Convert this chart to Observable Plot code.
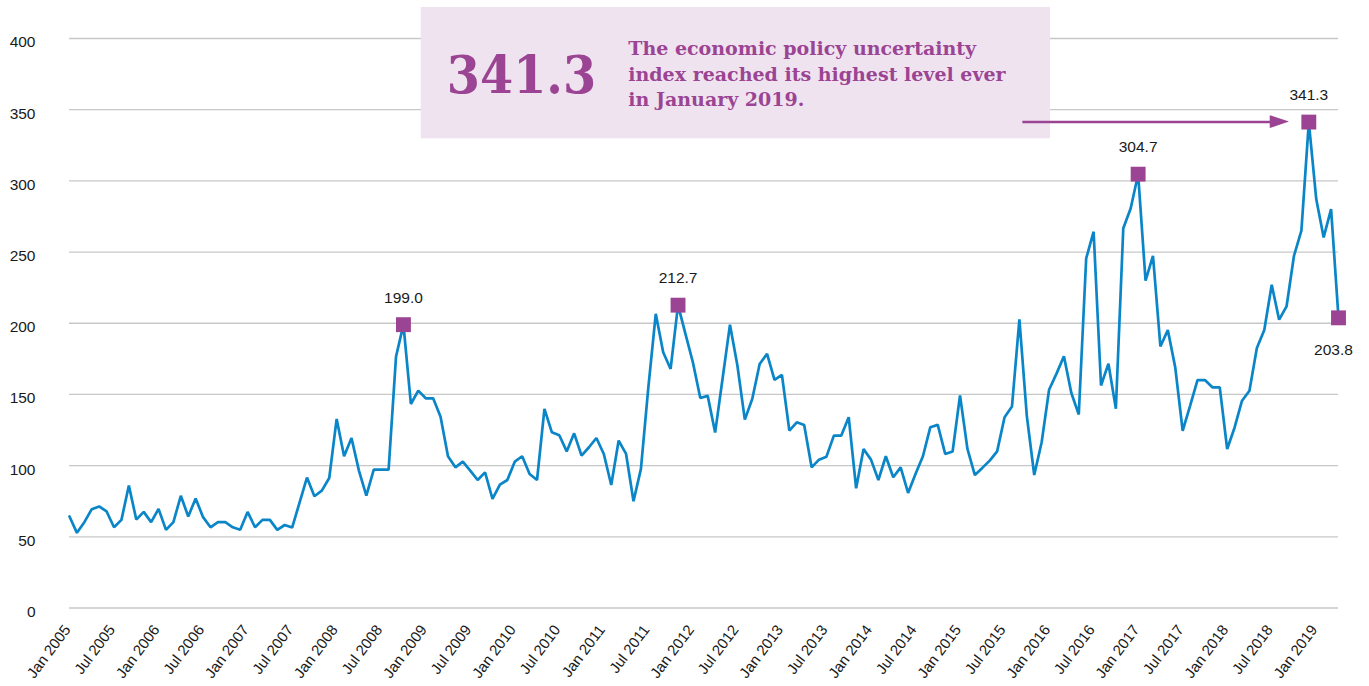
<!DOCTYPE html>
<html>
<head>
<meta charset="utf-8">
<script src="https://cdn.jsdelivr.net/npm/d3@7"></script>
<script src="https://cdn.jsdelivr.net/npm/@observablehq/plot@0.6"></script>
<style>
  html, body { margin: 0; padding: 0; background: #ffffff; }
  #chart svg { display: block; }
</style>
</head>
<body>
<div id="chart"></div>
<script>
// Monthly economic policy uncertainty index, Jan 2005 onward (one value per month)
const values = [
  64.3, 52.8, 60.3, 69.4, 71.3, 67.8, 56.7, 61.9, 86.0, 62.1,
  67.5, 60.3, 69.6, 54.9, 60.3, 78.8, 64.3, 76.9, 63.8, 56.7,
  60.3, 60.3, 56.7, 54.9, 67.5, 56.7, 61.9, 61.9, 54.9, 58.3,
  56.5, 74.0, 91.6, 78.5, 82.4, 91.3, 132.8, 106.6, 119.4, 96.5,
  79.0, 97.2, 97.2, 97.2, 176.6, 199.0, 143.3, 152.7, 147.3, 147.3,
  134.4, 106.6, 98.8, 102.8, 96.5, 89.9, 95.3, 76.6, 86.6, 89.9,
  102.8, 106.6, 94.1, 89.9, 139.8, 123.4, 121.3, 110.0, 122.7, 107.0,
  112.9, 119.4, 108.2, 86.4, 117.6, 108.2, 75.0, 97.7, 155.0, 206.6,
  179.6, 167.9, 212.7, 192.5, 172.6, 147.5, 149.0, 123.2, 161.0, 199.0,
  170.3, 132.3, 146.8, 171.4, 178.5, 160.2, 163.7, 124.6, 130.4, 128.6,
  98.8, 104.2, 106.3, 121.1, 121.1, 134.0, 84.1, 111.7, 104.2, 89.9,
  106.6, 91.8, 98.8, 80.8, 94.1, 106.6, 127.0, 128.6, 108.2, 109.9,
  149.3, 111.7, 93.4, 98.4, 103.5, 110.0, 134.0, 141.5, 202.8, 135.0,
  93.4, 116.4, 153.3, 164.6, 176.8, 151.0, 135.9, 245.5, 264.3, 156.3,
  171.6, 139.9, 266.7, 280.8, 304.7, 229.9, 247.4, 183.7, 195.2, 169.0,
  124.5, 142.0, 160.1, 160.1, 155.0, 155.0, 111.7, 126.8, 145.6, 152.6,
  182.6, 195.2, 227.0, 202.5, 211.8, 247.4, 265.0, 341.3, 287.2, 260.3,
  280.2, 203.8
];

// Axis tick labels, one every six months
const tickLabels = [
  "Jan 2005", "Jul 2005", "Jan 2006", "Jul 2006", "Jan 2007", "Jul 2007",
  "Jan 2008", "Jul 2008", "Jan 2009", "Jul 2009", "Jan 2010", "Jul 2010",
  "Jan 2011", "Jul 2011", "Jan 2012", "Jul 2012", "Jan 2013", "Jul 2013",
  "Jan 2014", "Jul 2014", "Jan 2015", "Jul 2015", "Jan 2016", "Jul 2016",
  "Jan 2017", "Jul 2017", "Jan 2018", "Jul 2018", "Jan 2019"
];
const yTicks = [0, 50, 100, 150, 200, 250, 300, 350, 400];

// Highlighted points (month index into values) and their labels
const highlightIndex = [45, 82, 144, 167, 171];
const highlightLabel = ["199.0", "212.7", "304.7", "341.3", "203.8"];
const highlightSide  = ["above", "above", "above", "above", "below"];

// Callout
const calloutNumber = "341.3";
const calloutText = "The economic policy uncertainty\nindex reached its highest level ever\nin January 2019.";

const BLUE = "#0a86c8";
const PURPLE = "#9b4493";
const LAVENDER = "#efe3f0";

const series = values.map((v, i) => ({ i, v }));
const highlights = highlightIndex.map((i, k) => ({ i, v: values[i], label: highlightLabel[k], side: highlightSide[k] }));
const tickIndex = tickLabels.map((_, k) => k * 6);

// callout geometry in data units (month index, index value)
const box = [{ x1: 47.4, x2: 132.2, y1: 329.5, y2: 421.8 }];
const bigNum = [{ x: 60.9, y: 373.5, t: calloutNumber }];
const para = [{ x: 75.3, y: 376.0, t: calloutText }];
const shaft = [{ x1: 128.4, x2: 162.0, y: 341.3 }];
const head = [{ x: 161.8, y1: 336.8, y2: 345.8 }, { x: 164.4, y1: 341.3, y2: 341.3 }];

const chart = Plot.plot({
  width: 1369,
  height: 686,
  marginLeft: 69,
  marginRight: 31,
  marginTop: 38,
  marginBottom: 78.5,
  style: { fontFamily: "'Liberation Sans', Arial, Helvetica, sans-serif", fontSize: "15px", color: "#1a1a1a", background: "#ffffff" },
  x: { type: "linear", domain: [0, values.length - 1] },
  y: { domain: [0, 400] },
  marks: [
    Plot.gridY(yTicks, { stroke: "#c8c8c8", strokeOpacity: 1, strokeWidth: 1.3 }),
    Plot.axisY(yTicks, { tickSize: 0, tickPadding: 34, dy: 4, fontSize: 15.5, fill: "#1a1a1a" }),
    Plot.axisX(tickIndex, {
      tickSize: 0, tickRotate: -53, textAnchor: "end", tickPadding: 19, dx: -2,
      tickFormat: (d) => tickLabels[Math.round(d / 6)], fontSize: 15, fill: "#1a1a1a"
    }),
    Plot.line(series, { x: "i", y: "v", stroke: BLUE, strokeWidth: 2.7, strokeLinejoin: "miter" }),
    Plot.rect(box, { x1: "x1", x2: "x2", y1: "y1", y2: "y2", fill: LAVENDER }),
    Plot.text(bigNum, { x: "x", y: "y", text: "t", fill: PURPLE, fontSize: 53, fontWeight: "bold",
      fontFamily: "'DejaVu Serif Condensed', 'DejaVu Serif', serif", textAnchor: "middle" }),
    Plot.text(para, { x: "x", y: "y", text: "t", fill: PURPLE, fontSize: 19, fontWeight: "bold", lineHeight: 1.34,
      fontFamily: "'DejaVu Serif', serif", textAnchor: "start" }),
    Plot.link(shaft, { x1: "x1", x2: "x2", y1: "y", y2: "y", stroke: PURPLE, strokeWidth: 2.5 }),
    Plot.areaY(head, { x: "x", y1: "y1", y2: "y2", fill: PURPLE }),
    Plot.dot(highlights, { x: "i", y: "v", symbol: "square", r: 8.4, fill: PURPLE }),
    Plot.text(highlights.filter(d => d.side === "above"), { x: "i", y: "v", text: "label", dy: -27, fontSize: 15.5, fill: "#1a1a1a" }),
    Plot.text(highlights.filter(d => d.side === "below"), { x: "i", y: "v", text: "label", dy: 32, dx: -5, fontSize: 15.5, fill: "#1a1a1a" })
  ]
});

document.getElementById("chart").appendChild(chart);
</script>
</body>
</html>
